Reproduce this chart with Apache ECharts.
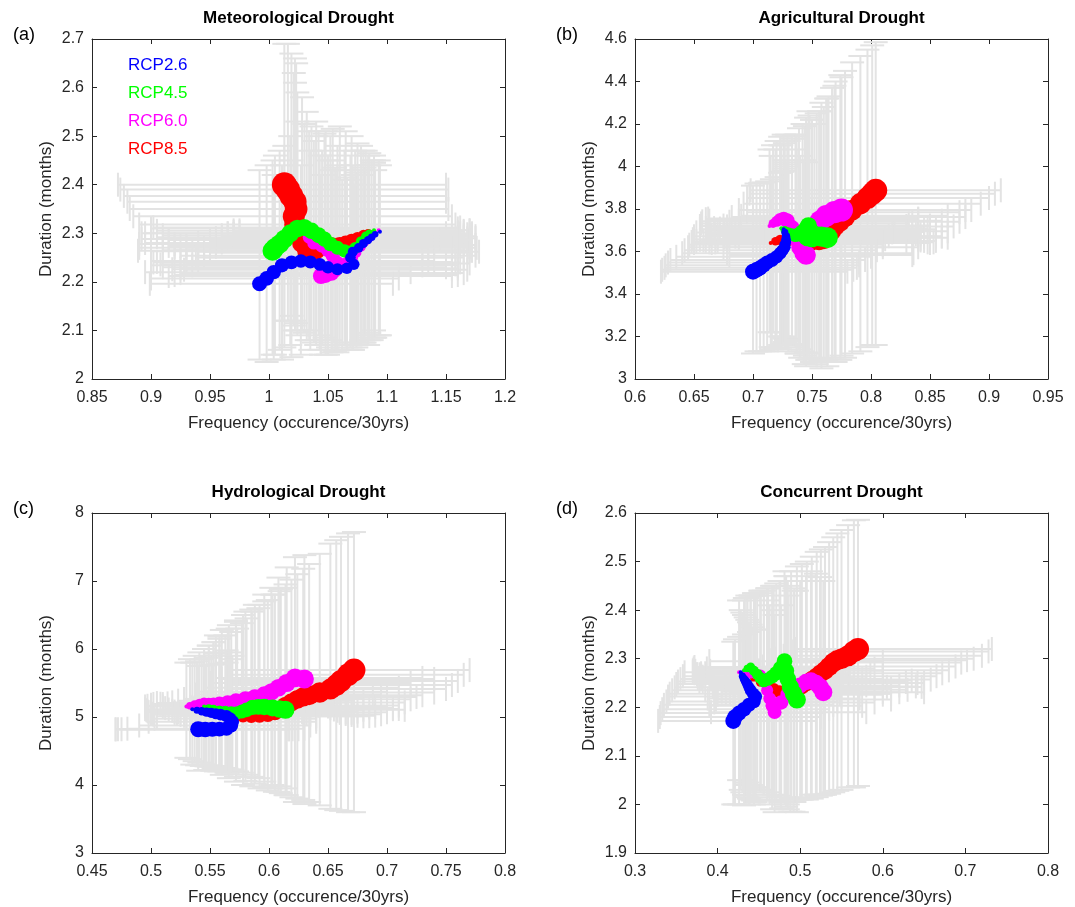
<!DOCTYPE html>
<html>
<head>
<meta charset="utf-8">
<script src="https://cdn.jsdelivr.net/npm/echarts@6/dist/echarts.min.js"></script>
<style>
  html, body { margin: 0; padding: 0; background: #fff; }
  #chart { width: 1075px; height: 907px; }
</style>
</head>
<body>
<div id="chart"></div>
<script>
// rows: [frequency, duration, freqLow, freqHigh, durLow, durHigh], ordered from first to last window
var metRcp26 = [
  [1.094, 2.303, 0.975, 1.165, 2.09, 2.44], [1.090, 2.298, 0.970, 1.168, 2.085, 2.43],
  [1.087, 2.292, 0.965, 1.160, 2.08, 2.45], [1.084, 2.286, 0.960, 1.170, 2.07, 2.44],
  [1.080, 2.279, 0.955, 1.162, 2.075, 2.42], [1.076, 2.270, 0.950, 1.155, 2.07, 2.43],
  [1.071, 2.262, 0.945, 1.160, 2.06, 2.44], [1.069, 2.250, 0.938, 1.158, 2.065, 2.41],
  [1.072, 2.236, 0.930, 1.150, 2.07, 2.40], [1.066, 2.228, 0.925, 1.160, 2.06, 2.41],
  [1.058, 2.226, 0.918, 1.155, 2.055, 2.43], [1.050, 2.230, 0.910, 1.150, 2.05, 2.45],
  [1.043, 2.236, 0.908, 1.158, 2.06, 2.46], [1.035, 2.241, 0.905, 1.155, 2.06, 2.47],
  [1.027, 2.243, 0.900, 1.140, 2.05, 2.44], [1.019, 2.240, 0.902, 1.135, 2.045, 2.45],
  [1.011, 2.234, 0.900, 1.130, 2.04, 2.44], [1.004, 2.220, 0.895, 1.120, 2.04, 2.42],
  [0.998, 2.207, 0.900, 1.110, 2.035, 2.44], [0.992, 2.196, 0.899, 1.105, 2.04, 2.43]
];
var metRcp45 = [
  [1.089, 2.306, 0.970, 1.170, 2.10, 2.46], [1.085, 2.300, 0.965, 1.172, 2.095, 2.465],
  [1.082, 2.294, 0.960, 1.175, 2.09, 2.47], [1.078, 2.283, 0.950, 1.170, 2.08, 2.48],
  [1.073, 2.270, 0.945, 1.176, 2.075, 2.47], [1.069, 2.262, 0.940, 1.178, 2.07, 2.46],
  [1.064, 2.264, 0.935, 1.172, 2.07, 2.47], [1.058, 2.270, 0.930, 1.170, 2.07, 2.48],
  [1.052, 2.278, 0.920, 1.165, 2.08, 2.50], [1.047, 2.288, 0.915, 1.168, 2.085, 2.505],
  [1.042, 2.296, 0.910, 1.170, 2.09, 2.51], [1.036, 2.305, 0.905, 1.165, 2.10, 2.52],
  [1.030, 2.312, 0.902, 1.162, 2.095, 2.525], [1.024, 2.310, 0.900, 1.160, 2.09, 2.53],
  [1.018, 2.300, 0.895, 1.150, 2.07, 2.50], [1.013, 2.288, 0.892, 1.145, 2.065, 2.48],
  [1.009, 2.278, 0.890, 1.140, 2.06, 2.47], [1.005, 2.270, 0.890, 1.135, 2.05, 2.46],
  [1.003, 2.264, 0.889, 1.130, 2.05, 2.45]
];
var metRcp60 = [
  [1.093, 2.306, 0.975, 1.170, 2.09, 2.45], [1.089, 2.298, 0.970, 1.172, 2.085, 2.445],
  [1.085, 2.290, 0.965, 1.175, 2.08, 2.44], [1.081, 2.281, 0.960, 1.172, 2.075, 2.435],
  [1.078, 2.272, 0.955, 1.170, 2.07, 2.43], [1.074, 2.260, 0.950, 1.168, 2.065, 2.425],
  [1.071, 2.250, 0.945, 1.165, 2.06, 2.42], [1.066, 2.240, 0.940, 1.162, 2.06, 2.415],
  [1.062, 2.234, 0.935, 1.160, 2.06, 2.41], [1.040, 2.286, 0.915, 1.170, 2.08, 2.50],
  [1.034, 2.292, 0.905, 1.165, 2.08, 2.51], [1.038, 2.280, 0.910, 1.168, 2.075, 2.49],
  [1.045, 2.274, 0.915, 1.170, 2.07, 2.47], [1.050, 2.265, 0.920, 1.172, 2.065, 2.46],
  [1.054, 2.254, 0.925, 1.175, 2.06, 2.45], [1.058, 2.238, 0.930, 1.170, 2.06, 2.44],
  [1.056, 2.225, 0.928, 1.168, 2.058, 2.435], [1.053, 2.218, 0.925, 1.165, 2.055, 2.43],
  [1.048, 2.214, 0.920, 1.160, 2.05, 2.42], [1.044, 2.212, 0.915, 1.155, 2.05, 2.42]
];
var metRcp85 = [
  [1.089, 2.303, 0.970, 1.160, 2.09, 2.45], [1.084, 2.300, 0.965, 1.162, 2.085, 2.46],
  [1.080, 2.296, 0.960, 1.165, 2.08, 2.47], [1.075, 2.290, 0.955, 1.168, 2.075, 2.485],
  [1.070, 2.285, 0.950, 1.170, 2.07, 2.50], [1.065, 2.280, 0.940, 1.172, 2.07, 2.51],
  [1.060, 2.276, 0.930, 1.175, 2.07, 2.52], [1.054, 2.274, 0.925, 1.172, 2.075, 2.515],
  [1.048, 2.272, 0.920, 1.170, 2.08, 2.51], [1.040, 2.265, 0.910, 1.165, 2.07, 2.53],
  [1.032, 2.263, 0.900, 1.170, 2.08, 2.55], [1.028, 2.280, 0.895, 1.160, 2.10, 2.58],
  [1.024, 2.300, 0.892, 1.160, 2.10, 2.59], [1.022, 2.318, 0.890, 1.158, 2.10, 2.61],
  [1.021, 2.335, 0.885, 1.155, 2.11, 2.63], [1.023, 2.350, 0.882, 1.152, 2.115, 2.65],
  [1.022, 2.365, 0.880, 1.150, 2.12, 2.66], [1.019, 2.377, 0.877, 1.150, 2.13, 2.67],
  [1.016, 2.390, 0.874, 1.152, 2.12, 2.69], [1.013, 2.400, 0.872, 1.150, 2.12, 2.69]
];

var agrRcp26 = [
  [0.726, 3.705, 0.655, 0.820, 3.20, 4.05], [0.727, 3.690, 0.652, 0.818, 3.195, 4.03],
  [0.728, 3.672, 0.650, 0.815, 3.19, 4.02], [0.728, 3.658, 0.649, 0.812, 3.185, 4.01],
  [0.728, 3.645, 0.648, 0.810, 3.18, 4.00], [0.727, 3.632, 0.646, 0.810, 3.175, 3.99],
  [0.727, 3.620, 0.645, 0.810, 3.17, 3.98], [0.725, 3.606, 0.642, 0.805, 3.165, 3.975],
  [0.723, 3.592, 0.640, 0.800, 3.16, 3.97], [0.720, 3.575, 0.635, 0.800, 3.15, 3.95],
  [0.716, 3.560, 0.630, 0.795, 3.14, 3.94], [0.712, 3.548, 0.628, 0.790, 3.13, 3.93],
  [0.709, 3.535, 0.626, 0.790, 3.13, 3.925], [0.706, 3.523, 0.625, 0.788, 3.13, 3.92],
  [0.703, 3.514, 0.623, 0.785, 3.13, 3.92], [0.700, 3.505, 0.622, 0.780, 3.12, 3.91]
];
var agrRcp45 = [
  [0.724, 3.710, 0.660, 0.830, 3.20, 4.10], [0.727, 3.700, 0.661, 0.832, 3.19, 4.11],
  [0.730, 3.690, 0.662, 0.835, 3.18, 4.12], [0.733, 3.682, 0.664, 0.838, 3.165, 4.14],
  [0.736, 3.675, 0.665, 0.840, 3.15, 4.15], [0.739, 3.682, 0.668, 0.842, 3.14, 4.18],
  [0.742, 3.692, 0.670, 0.845, 3.13, 4.20], [0.745, 3.708, 0.672, 0.848, 3.125, 4.23],
  [0.747, 3.722, 0.675, 0.850, 3.12, 4.26], [0.748, 3.700, 0.678, 0.850, 3.10, 4.24],
  [0.746, 3.668, 0.676, 0.845, 3.09, 4.20], [0.750, 3.665, 0.678, 0.850, 3.08, 4.22],
  [0.754, 3.672, 0.680, 0.855, 3.07, 4.25], [0.758, 3.670, 0.685, 0.860, 3.05, 4.30],
  [0.763, 3.665, 0.688, 0.865, 3.06, 4.32]
];
var agrRcp60 = [
  [0.714, 3.720, 0.655, 0.830, 3.22, 4.08], [0.717, 3.732, 0.656, 0.832, 3.22, 4.10],
  [0.720, 3.742, 0.657, 0.835, 3.22, 4.12], [0.723, 3.752, 0.660, 0.840, 3.20, 4.14],
  [0.726, 3.755, 0.662, 0.840, 3.195, 4.15], [0.729, 3.745, 0.663, 0.840, 3.19, 4.15],
  [0.733, 3.710, 0.667, 0.845, 3.16, 4.13], [0.737, 3.660, 0.670, 0.842, 3.12, 4.08],
  [0.740, 3.620, 0.675, 0.840, 3.10, 4.05], [0.743, 3.592, 0.678, 0.836, 3.07, 4.03],
  [0.745, 3.583, 0.680, 0.835, 3.06, 4.02], [0.752, 3.705, 0.685, 0.855, 3.08, 4.20],
  [0.757, 3.745, 0.688, 0.860, 3.085, 4.26], [0.762, 3.768, 0.690, 0.865, 3.09, 4.32],
  [0.769, 3.785, 0.695, 0.875, 3.10, 4.38], [0.775, 3.795, 0.700, 0.880, 3.11, 4.42]
];
var agrRcp85 = [
  [0.715, 3.640, 0.650, 0.830, 3.15, 4.05], [0.719, 3.648, 0.652, 0.835, 3.145, 4.08],
  [0.723, 3.655, 0.655, 0.840, 3.14, 4.10], [0.730, 3.652, 0.658, 0.842, 3.13, 4.12],
  [0.737, 3.650, 0.660, 0.845, 3.12, 4.15], [0.744, 3.643, 0.663, 0.848, 3.11, 4.19],
  [0.750, 3.640, 0.665, 0.850, 3.10, 4.22], [0.756, 3.643, 0.668, 0.853, 3.095, 4.26],
  [0.760, 3.650, 0.670, 0.855, 3.09, 4.28], [0.764, 3.672, 0.675, 0.860, 3.08, 4.33],
  [0.767, 3.695, 0.676, 0.865, 3.08, 4.37], [0.770, 3.718, 0.678, 0.870, 3.08, 4.40],
  [0.774, 3.740, 0.680, 0.875, 3.09, 4.43], [0.778, 3.762, 0.682, 0.880, 3.10, 4.45],
  [0.784, 3.795, 0.688, 0.885, 3.12, 4.49], [0.791, 3.825, 0.692, 0.893, 3.13, 4.52],
  [0.797, 3.852, 0.695, 0.900, 3.15, 4.55], [0.801, 3.872, 0.697, 0.905, 3.16, 4.57],
  [0.804, 3.888, 0.698, 0.910, 3.16, 4.585]
];

var hydRcp26 = [
  [0.535, 5.115, 0.495, 0.620, 4.30, 5.80], [0.539, 5.100, 0.496, 0.622, 4.29, 5.82],
  [0.543, 5.085, 0.497, 0.625, 4.28, 5.85], [0.547, 5.072, 0.498, 0.628, 4.275, 5.87],
  [0.551, 5.060, 0.500, 0.630, 4.27, 5.90], [0.555, 5.047, 0.501, 0.632, 4.26, 5.93],
  [0.559, 5.035, 0.502, 0.635, 4.25, 5.95], [0.564, 5.012, 0.505, 0.640, 4.24, 5.98],
  [0.567, 4.975, 0.503, 0.640, 4.23, 5.95], [0.569, 4.930, 0.498, 0.640, 4.22, 5.90],
  [0.568, 4.875, 0.490, 0.635, 4.20, 5.85], [0.564, 4.828, 0.480, 0.630, 4.18, 5.80],
  [0.558, 4.820, 0.475, 0.625, 4.20, 5.78], [0.552, 4.820, 0.472, 0.620, 4.21, 5.77],
  [0.546, 4.817, 0.470, 0.617, 4.22, 5.76], [0.540, 4.820, 0.470, 0.615, 4.21, 5.75]
];
var hydRcp45 = [
  [0.545, 5.155, 0.510, 0.650, 4.30, 6.00], [0.549, 5.130, 0.512, 0.652, 4.29, 6.05],
  [0.553, 5.110, 0.515, 0.655, 4.28, 6.10], [0.558, 5.092, 0.518, 0.658, 4.265, 6.15],
  [0.563, 5.080, 0.520, 0.660, 4.25, 6.20], [0.568, 5.068, 0.523, 0.665, 4.22, 6.25],
  [0.573, 5.062, 0.525, 0.670, 4.20, 6.30], [0.577, 5.080, 0.528, 0.675, 4.18, 6.38],
  [0.581, 5.105, 0.530, 0.680, 4.15, 6.45], [0.586, 5.140, 0.533, 0.685, 4.12, 6.55],
  [0.591, 5.150, 0.535, 0.690, 4.10, 6.60], [0.596, 5.148, 0.540, 0.700, 4.05, 6.70],
  [0.603, 5.132, 0.545, 0.705, 4.00, 6.80], [0.609, 5.118, 0.550, 0.710, 3.98, 6.85],
  [0.614, 5.105, 0.552, 0.715, 3.95, 6.90]
];
var hydRcp60 = [
  [0.530, 5.155, 0.495, 0.640, 4.40, 5.80], [0.533, 5.165, 0.497, 0.642, 4.38, 5.85],
  [0.537, 5.180, 0.500, 0.645, 4.35, 5.90], [0.541, 5.192, 0.502, 0.648, 4.33, 5.95],
  [0.545, 5.205, 0.505, 0.650, 4.30, 6.00], [0.549, 5.195, 0.508, 0.653, 4.27, 6.05],
  [0.553, 5.190, 0.510, 0.655, 4.25, 6.10], [0.558, 5.200, 0.514, 0.660, 4.22, 6.18],
  [0.565, 5.215, 0.518, 0.665, 4.16, 6.30], [0.572, 5.240, 0.523, 0.672, 4.12, 6.40],
  [0.580, 5.265, 0.528, 0.680, 4.06, 6.55], [0.588, 5.290, 0.533, 0.688, 4.02, 6.65],
  [0.596, 5.330, 0.538, 0.695, 3.97, 6.80], [0.602, 5.370, 0.540, 0.700, 3.95, 6.90],
  [0.608, 5.430, 0.545, 0.710, 3.90, 7.05], [0.615, 5.500, 0.550, 0.720, 3.85, 7.20],
  [0.622, 5.575, 0.555, 0.730, 3.75, 7.35], [0.630, 5.560, 0.560, 0.740, 3.72, 7.38]
];
var hydRcp85 = [
  [0.555, 5.060, 0.520, 0.660, 4.20, 6.20], [0.560, 5.045, 0.522, 0.665, 4.15, 6.28],
  [0.566, 5.030, 0.525, 0.670, 4.10, 6.35], [0.572, 5.018, 0.528, 0.675, 4.05, 6.42],
  [0.578, 5.010, 0.530, 0.680, 4.00, 6.50], [0.585, 5.012, 0.533, 0.685, 3.98, 6.58],
  [0.592, 5.020, 0.535, 0.690, 3.95, 6.65], [0.599, 5.040, 0.538, 0.695, 3.92, 6.72],
  [0.605, 5.070, 0.540, 0.700, 3.90, 6.80], [0.610, 5.115, 0.542, 0.705, 3.88, 6.88],
  [0.614, 5.170, 0.545, 0.710, 3.85, 6.95], [0.619, 5.215, 0.548, 0.715, 3.82, 7.02],
  [0.624, 5.260, 0.550, 0.720, 3.80, 7.10], [0.629, 5.295, 0.552, 0.725, 3.78, 7.18],
  [0.634, 5.320, 0.555, 0.730, 3.75, 7.25], [0.643, 5.360, 0.560, 0.740, 3.70, 7.40],
  [0.652, 5.410, 0.563, 0.750, 3.65, 7.55], [0.657, 5.470, 0.564, 0.755, 3.63, 7.60],
  [0.661, 5.530, 0.565, 0.760, 3.62, 7.65], [0.667, 5.620, 0.567, 0.765, 3.60, 7.70],
  [0.672, 5.690, 0.568, 0.770, 3.60, 7.72]
];

var conRcp26 = [
  [0.428, 2.272, 0.360, 0.530, 2.030, 2.400], [0.430, 2.264, 0.358, 0.532, 2.025, 2.395],
  [0.432, 2.258, 0.355, 0.535, 2.020, 2.390], [0.434, 2.253, 0.352, 0.538, 2.018, 2.385],
  [0.436, 2.248, 0.350, 0.540, 2.015, 2.380], [0.438, 2.241, 0.348, 0.542, 2.012, 2.375],
  [0.440, 2.235, 0.345, 0.545, 2.010, 2.370], [0.443, 2.228, 0.342, 0.548, 2.008, 2.365],
  [0.446, 2.222, 0.340, 0.550, 2.005, 2.360], [0.444, 2.212, 0.338, 0.545, 2.000, 2.360],
  [0.438, 2.205, 0.335, 0.540, 2.000, 2.355], [0.432, 2.196, 0.333, 0.535, 1.998, 2.350],
  [0.426, 2.188, 0.331, 0.530, 2.000, 2.345], [0.421, 2.180, 0.330, 0.525, 2.000, 2.340],
  [0.419, 2.172, 0.328, 0.520, 2.000, 2.335]
];
var conRcp45 = [
  [0.432, 2.276, 0.370, 0.540, 2.050, 2.420], [0.436, 2.280, 0.371, 0.545, 2.045, 2.425],
  [0.440, 2.283, 0.372, 0.550, 2.040, 2.430], [0.444, 2.275, 0.373, 0.555, 2.035, 2.430],
  [0.448, 2.268, 0.375, 0.560, 2.030, 2.430], [0.452, 2.260, 0.376, 0.565, 2.025, 2.435],
  [0.456, 2.254, 0.378, 0.570, 2.020, 2.440], [0.461, 2.258, 0.380, 0.575, 2.015, 2.445],
  [0.466, 2.263, 0.382, 0.580, 2.010, 2.450], [0.471, 2.270, 0.385, 0.585, 2.008, 2.455],
  [0.476, 2.280, 0.387, 0.590, 2.005, 2.460], [0.481, 2.295, 0.390, 0.600, 2.000, 2.480],
  [0.483, 2.275, 0.391, 0.600, 1.995, 2.470], [0.485, 2.258, 0.392, 0.600, 1.990, 2.460],
  [0.488, 2.242, 0.394, 0.605, 1.985, 2.450], [0.492, 2.228, 0.396, 0.610, 1.985, 2.440],
  [0.496, 2.216, 0.398, 0.610, 1.984, 2.440]
];
var conRcp60 = [
  [0.426, 2.272, 0.370, 0.530, 2.050, 2.420], [0.433, 2.270, 0.372, 0.538, 2.045, 2.425],
  [0.440, 2.268, 0.375, 0.545, 2.040, 2.430], [0.446, 2.268, 0.378, 0.552, 2.035, 2.435],
  [0.452, 2.267, 0.380, 0.560, 2.030, 2.440], [0.456, 2.252, 0.382, 0.565, 2.020, 2.430],
  [0.460, 2.235, 0.385, 0.570, 2.010, 2.420], [0.463, 2.218, 0.388, 0.572, 2.000, 2.410],
  [0.466, 2.203, 0.390, 0.575, 1.990, 2.400], [0.469, 2.190, 0.392, 0.580, 1.984, 2.390],
  [0.477, 2.210, 0.396, 0.590, 1.992, 2.410], [0.485, 2.226, 0.400, 0.600, 2.000, 2.430],
  [0.493, 2.238, 0.405, 0.610, 2.005, 2.445], [0.500, 2.245, 0.410, 0.620, 2.010, 2.460],
  [0.507, 2.252, 0.415, 0.628, 2.015, 2.470], [0.513, 2.255, 0.420, 0.635, 2.020, 2.480],
  [0.519, 2.250, 0.427, 0.642, 2.020, 2.475], [0.524, 2.242, 0.432, 0.647, 2.020, 2.468],
  [0.528, 2.231, 0.435, 0.650, 2.020, 2.460]
];
var conRcp85 = [
  [0.436, 2.270, 0.380, 0.550, 2.040, 2.430], [0.444, 2.261, 0.385, 0.560, 2.035, 2.435],
  [0.452, 2.252, 0.390, 0.570, 2.030, 2.440], [0.460, 2.245, 0.395, 0.580, 2.025, 2.445],
  [0.468, 2.238, 0.400, 0.590, 2.020, 2.450], [0.475, 2.232, 0.405, 0.600, 2.018, 2.460],
  [0.482, 2.228, 0.410, 0.610, 2.015, 2.470], [0.489, 2.231, 0.415, 0.620, 2.012, 2.480],
  [0.496, 2.236, 0.420, 0.630, 2.010, 2.490], [0.502, 2.243, 0.425, 0.640, 2.010, 2.495],
  [0.508, 2.250, 0.430, 0.650, 2.010, 2.500], [0.514, 2.257, 0.435, 0.658, 2.012, 2.510],
  [0.520, 2.264, 0.440, 0.665, 2.015, 2.520], [0.525, 2.270, 0.445, 0.672, 2.018, 2.525],
  [0.530, 2.276, 0.450, 0.680, 2.020, 2.530], [0.535, 2.284, 0.455, 0.688, 2.022, 2.540],
  [0.540, 2.292, 0.460, 0.695, 2.025, 2.550], [0.545, 2.297, 0.465, 0.702, 2.028, 2.558],
  [0.550, 2.300, 0.470, 0.710, 2.030, 2.565], [0.558, 2.306, 0.480, 0.720, 2.035, 2.575],
  [0.565, 2.315, 0.490, 0.728, 2.035, 2.585], [0.570, 2.320, 0.495, 0.732, 2.038, 2.586]
];

var scenarioNames = ['RCP2.6', 'RCP4.5', 'RCP6.0', 'RCP8.5'];
var panelTitles = ['Meteorological Drought', 'Agricultural Drought', 'Hydrological Drought', 'Concurrent Drought'];
var panelLetters = ['(a)', '(b)', '(c)', '(d)'];
var xLimits = [[0.85, 1.2, 0.05], [0.6, 0.95, 0.05], [0.45, 0.8, 0.05], [0.3, 0.8, 0.1]];
var yLimits = [[2, 2.7, 0.1], [3, 4.6, 0.2], [3, 8, 1], [1.9, 2.6, 0.1]];
var xLabel = 'Frequency (occurence/30yrs)';
var yLabel = 'Duration (months)';

var panelData = [
  [metRcp26, metRcp45, metRcp60, metRcp85],
  [agrRcp26, agrRcp45, agrRcp60, agrRcp85],
  [hydRcp26, hydRcp45, hydRcp60, hydRcp85],
  [conRcp26, conRcp45, conRcp60, conRcp85]
];

// styling
var colors = ['#0000ff', '#00ff00', '#ff00ff', '#ff0000'];
var maxDot = [[15, 20, 16, 25], [16, 21, 23, 23], [16, 18, 19, 23], [16, 18, 18, 22]];
var minDot = 4;
var barColor = '#e3e3e3';
var barWidth = 2;
var capHalf = 12;
var inkColor = '#262626';
var fontName = "'Liberation Sans', Arial, Helvetica, sans-serif";
var grids = [
  {left: 92, top: 39, width: 413, height: 340},
  {left: 635, top: 39, width: 413, height: 340},
  {left: 92, top: 513, width: 413, height: 340},
  {left: 635, top: 513, width: 413, height: 340}
];

function sizeRamp(n, maxD) {
  return function (val, params) {
    var t = n > 1 ? params.dataIndex / (n - 1) : 1;
    return minDot + (maxD - minDot) * Math.pow(t, 0.5);
  };
}

function seg(x1, y1, x2, y2) {
  return {type: 'line', shape: {x1: x1, y1: y1, x2: x2, y2: y2},
    style: {stroke: barColor, lineWidth: barWidth}};
}

function renderErrorBar(params, api) {
  var l = api.coord([api.value(2), api.value(1)]);
  var r = api.coord([api.value(3), api.value(1)]);
  var b = api.coord([api.value(0), api.value(4)]);
  var t = api.coord([api.value(0), api.value(5)]);
  var c = capHalf;
  return {type: 'group', children: [
    seg(l[0], l[1], r[0], r[1]),
    seg(l[0], l[1] - c, l[0], l[1] + c),
    seg(r[0], r[1] - c, r[0], r[1] + c),
    seg(b[0], b[1], t[0], t[1]),
    seg(b[0] - c, b[1], b[0] + c, b[1]),
    seg(t[0] - c, t[1], t[0] + c, t[1])
  ]};
}

function axisBase(lim, show) {
  return {
    type: 'value', min: lim[0], max: lim[1], interval: lim[2],
    axisLine: {show: true, onZero: false, lineStyle: {color: inkColor, width: 1}},
    axisTick: {show: true, inside: true, length: 5, lineStyle: {color: inkColor}},
    axisLabel: {show: show, color: inkColor, fontSize: 16, fontFamily: fontName},
    splitLine: {show: false}
  };
}

var xAxes = [], yAxes = [], errSeries = [], dotSeries = [], graphics = [];

grids.forEach(function (g, i) {
  var xb = axisBase(xLimits[i], true);
  xb.gridIndex = i; xb.position = 'bottom';
  xb.axisLabel.margin = 11;
  xb.name = xLabel; xb.nameLocation = 'middle'; xb.nameGap = 36;
  xb.nameTextStyle = {color: inkColor, fontSize: 17, fontFamily: fontName};
  xAxes.push(xb);

  var yl = axisBase(yLimits[i], true);
  yl.gridIndex = i; yl.position = 'left';
  yl.axisLabel.margin = 8;
  yl.name = yLabel; yl.nameLocation = 'middle'; yl.nameGap = 37;
  yl.nameTextStyle = {color: inkColor, fontSize: 17, fontFamily: fontName};
  yAxes.push(yl);

  graphics.push({
    type: 'text', x: g.left + g.width / 2, y: g.top - 21,
    style: {text: panelTitles[i], font: 'bold 17px ' + fontName, fill: '#000',
      textAlign: 'center', textVerticalAlign: 'middle'}
  });
  graphics.push({
    type: 'text', x: g.left - 79, y: g.top - 4,
    style: {text: panelLetters[i], font: '18px ' + fontName, fill: '#000',
      textAlign: 'left', textVerticalAlign: 'middle'}
  });
});

// mirror axes for the box ticks on top and right
grids.forEach(function (g, i) {
  var xt = axisBase(xLimits[i], false);
  xt.gridIndex = i; xt.position = 'top';
  xAxes.push(xt);
  var yr = axisBase(yLimits[i], false);
  yr.gridIndex = i; yr.position = 'right';
  yAxes.push(yr);
});

var drawOrder = [3, 2, 1, 0];
panelData.forEach(function (sets, i) {
  drawOrder.forEach(function (k) {
    errSeries.push({
      type: 'custom', name: scenarioNames[k] + ' range', xAxisIndex: i, yAxisIndex: i,
      data: sets[k], renderItem: renderErrorBar, z: 1, silent: true,
      encode: {x: [0, 2, 3], y: [1, 4, 5]}
    });
  });
  drawOrder.forEach(function (k) {
    dotSeries.push({
      type: 'scatter', name: scenarioNames[k], xAxisIndex: i, yAxisIndex: i,
      data: sets[k].map(function (r) { return [r[0], r[1]]; }),
      symbolSize: sizeRamp(sets[k].length, maxDot[i][k]),
      itemStyle: {color: colors[k], opacity: 1}, z: 3, silent: true
    });
  });
});

var chart = echarts.init(document.getElementById('chart'), null, {renderer: 'canvas'});
chart.setOption({
  animation: false,
  backgroundColor: '#fff',
  grid: grids,
  xAxis: xAxes,
  yAxis: yAxes,
  legend: {
    data: scenarioNames.map(function (n, k) { return {name: n, textStyle: {color: colors[k]}}; }),
    orient: 'vertical', left: 123, top: 57, padding: 0,
    icon: 'none', itemWidth: 0, itemHeight: 17, itemGap: 11, selectedMode: false,
    textStyle: {fontSize: 17, fontFamily: fontName}
  },
  graphic: graphics,
  series: errSeries.concat(dotSeries)
});
</script>
</body>
</html>
